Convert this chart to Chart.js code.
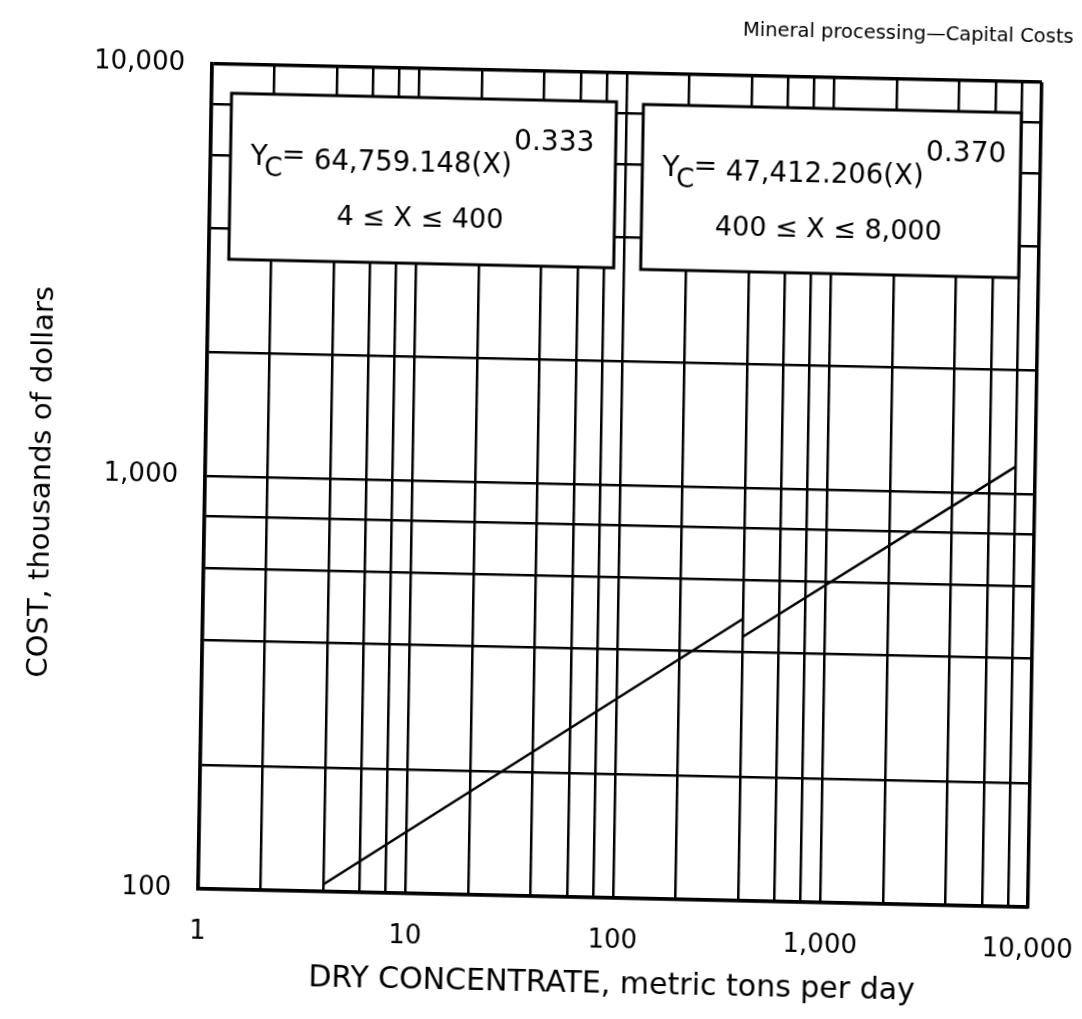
<!DOCTYPE html>
<html lang="en">
<head>
    <meta charset="UTF-8">
    <title>Mineral processing - Capital Costs</title>
    <script src="https://cdn.jsdelivr.net/npm/chart.js"></script>
    <style>
        html, body {
            margin: 0;
            padding: 0;
            background: #fff;
            overflow: hidden;
        }
        /* the scanned original sits a little crooked on the page */
        #costChart {
            display: block;
            transform: rotate(0.97deg) skewY(0.3deg);
            transform-origin: 620px 486px;
        }
    </style>
</head>
<body>
    <canvas id="costChart" width="1082" height="1019"></canvas>

    <script>
        // values (thousands of dollars vs tons/day)
        const lowRangeX = [4, 400];
        const lowRangeY = [104, 482];
        const highRangeX = [400, 8000];
        const highRangeY = [436, 1165];

        // grid lines of the log paper
        const xGrid = [1, 2, 4, 6, 8, 10, 20, 40, 60, 80, 100, 200, 400, 600, 800,
                       1000, 2000, 4000, 6000, 8000, 10000];
        const yGrid = [100, 200, 400, 600, 800, 1000, 2000, 4000, 6000, 8000, 10000];

        const chartTitle = 'Mineral processing\u2014Capital Costs';
        const xTitle = 'DRY CONCENTRATE, metric tons per day';
        const yTitle = 'COST, thousands of dollars';

        const eqCoef = ['64,759.148(X)', '47,412.206(X)'];
        const eqPower = ['0.333', '0.370'];
        const eqRange = ['4 \u2264 X \u2264 400', '400 \u2264 X \u2264 8,000'];

        // box placement relative to the plot area (px)
        const eqBoxes = [
            { dx: 20, dy: 29, w: 385, h: 166 },
            { dx: 432, dy: 31, w: 378, h: 165 }
        ];

        const FONT = '"DejaVu Sans", "Liberation Sans", sans-serif';

        function pts(xs, ys) {
            return xs.map((x, i) => ({ x: x, y: ys[i] }));
        }

        function decadeLabel(v) {
            const l = Math.log10(v);
            return Math.abs(l - Math.round(l)) < 1e-9 ? v.toLocaleString('en-US') : '';
        }

        const equationBoxes = {
            id: 'equationBoxes',
            afterDraw(chart) {
                const { ctx, chartArea: a } = chart;
                ctx.save();
                ctx.fillStyle = '#000';
                ctx.textBaseline = 'alphabetic';

                // title, top right
                ctx.font = '19.5px ' + FONT;
                ctx.textAlign = 'right';
                ctx.fillText(chartTitle, 1066, 33);

                ctx.textAlign = 'left';
                eqBoxes.forEach((b, i) => {
                    const x = a.left + b.dx;
                    const y = a.top + b.dy;
                    ctx.fillStyle = '#fff';
                    ctx.fillRect(x, y, b.w, b.h);
                    ctx.strokeStyle = '#000';
                    ctx.lineWidth = 3;
                    ctx.strokeRect(x, y, b.w, b.h);

                    ctx.fillStyle = '#000';
                    let cx = x + 20;
                    ctx.font = '28px ' + FONT;
                    ctx.fillText('Y', cx, y + 71);
                    cx += ctx.measureText('Y').width - 3;
                    ctx.font = '26px ' + FONT;
                    ctx.fillText('C', cx, y + 82);
                    cx += ctx.measureText('C').width - 1;
                    ctx.font = '28px ' + FONT;
                    ctx.fillText('=', cx, y + 69);
                    cx += ctx.measureText('= ').width;
                    ctx.font = '27.5px ' + FONT;
                    ctx.fillText(eqCoef[i], cx, y + 74);
                    cx += ctx.measureText(eqCoef[i]).width + 2;
                    ctx.font = '28px ' + FONT;
                    ctx.fillText(eqPower[i], cx, y + 50);

                    ctx.font = '27px ' + FONT;
                    ctx.textAlign = 'center';
                    ctx.fillText(eqRange[i], x + b.w / 2 - 2, y + 129);
                    ctx.textAlign = 'left';
                });
                ctx.restore();
            }
        };

        const edgeWidth = (ctx) => (ctx.tick && ctx.tick.value === 10000 ? 3.5 : 2.5);

        new Chart(document.getElementById('costChart'), {
            type: 'scatter',
            data: {
                datasets: [
                    {
                        label: '4 \u2264 X \u2264 400',
                        data: pts(lowRangeX, lowRangeY),
                        showLine: true,
                        borderColor: '#000',
                        borderWidth: 2.5,
                        pointRadius: 0
                    },
                    {
                        label: '400 \u2264 X \u2264 8,000',
                        data: pts(highRangeX, highRangeY),
                        showLine: true,
                        borderColor: '#000',
                        borderWidth: 2.5,
                        pointRadius: 0
                    }
                ]
            },
            options: {
                responsive: false,
                animation: false,
                layout: { padding: { top: 73, right: 47, left: 0, bottom: 0 } },
                plugins: {
                    legend: { display: false },
                    tooltip: { enabled: false }
                },
                scales: {
                    x: {
                        type: 'logarithmic',
                        min: 1,
                        max: 10000,
                        afterBuildTicks: s => { s.ticks = xGrid.map(v => ({ value: v })); },
                        afterFit: s => {
                            s.height = 121;
                            // keep the end labels from squeezing the plot area
                            s.paddingLeft = 0;
                            s.paddingRight = 0;
                        },
                        ticks: {
                            autoSkip: false,
                            maxRotation: 0,
                            padding: 28,
                            color: '#000',
                            font: { family: FONT, size: 26 },
                            callback: v => decadeLabel(v)
                        },
                        grid: { color: '#000', lineWidth: edgeWidth, drawTicks: false },
                        border: { color: '#000', width: 3.5 },
                        title: {
                            display: true,
                            text: xTitle,
                            color: '#000',
                            font: { family: FONT, size: 30 },
                            padding: { top: 0, bottom: 16 }
                        }
                    },
                    y: {
                        type: 'logarithmic',
                        min: 100,
                        max: 10000,
                        afterBuildTicks: s => { s.ticks = yGrid.map(v => ({ value: v })); },
                        afterFit: s => { s.width = 205; },
                        ticks: {
                            autoSkip: false,
                            padding: 27,
                            color: '#000',
                            font: { family: FONT, size: 26 },
                            callback: v => decadeLabel(v)
                        },
                        grid: { color: '#000', lineWidth: edgeWidth, drawTicks: false },
                        border: { color: '#000', width: 3.5 },
                        title: {
                            display: true,
                            // trailing spaces nudge the rotated title down like the scan
                            text: yTitle + '  ',
                            color: '#000',
                            font: { family: FONT, size: 29 },
                            padding: { top: 25, bottom: 0 }
                        }
                    }
                }
            },
            plugins: [equationBoxes]
        });
    </script>
</body>
</html>
